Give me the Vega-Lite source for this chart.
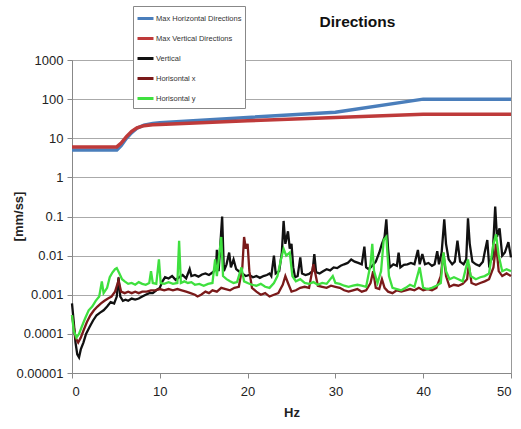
{
  "$schema": "https://vega.github.io/schema/vega-lite/v6.json",
  "width": 439,
  "height": 313,
  "autosize": {"type": "none"},
  "padding": {"left": 72, "top": 60, "right": 10, "bottom": 56},
  "background": "white",
  "config": {
    "font": "Liberation Sans",
    "view": {"stroke": "#999999", "strokeWidth": 1}
  },
  "title": {
    "text": "Directions",
    "fontSize": 15.5,
    "fontWeight": "bold",
    "color": "#111111",
    "anchor": "middle",
    "dx": 66,
    "offset": -25,
    "frame": "group"
  },
  "datasets": {
    "maxes": [
      {"s": "Max Horizontal Directions", "x": 0, "y": 5},
      {"s": "Max Horizontal Directions", "x": 5.1, "y": 5},
      {"s": "Max Horizontal Directions", "x": 5.6, "y": 6.5},
      {"s": "Max Horizontal Directions", "x": 6.2, "y": 10},
      {"s": "Max Horizontal Directions", "x": 6.8, "y": 14},
      {"s": "Max Horizontal Directions", "x": 7.4, "y": 18},
      {"s": "Max Horizontal Directions", "x": 8.2, "y": 21.5},
      {"s": "Max Horizontal Directions", "x": 9.2, "y": 24},
      {"s": "Max Horizontal Directions", "x": 10, "y": 25},
      {"s": "Max Horizontal Directions", "x": 20, "y": 34},
      {"s": "Max Horizontal Directions", "x": 30, "y": 46},
      {"s": "Max Horizontal Directions", "x": 40, "y": 100},
      {"s": "Max Horizontal Directions", "x": 50, "y": 100},
      {"s": "Max Vertical Directions", "x": 0, "y": 6},
      {"s": "Max Vertical Directions", "x": 5.1, "y": 6},
      {"s": "Max Vertical Directions", "x": 5.6, "y": 7.5},
      {"s": "Max Vertical Directions", "x": 6.2, "y": 11},
      {"s": "Max Vertical Directions", "x": 6.8, "y": 15},
      {"s": "Max Vertical Directions", "x": 7.4, "y": 18.5},
      {"s": "Max Vertical Directions", "x": 8.2, "y": 21},
      {"s": "Max Vertical Directions", "x": 9.2, "y": 22},
      {"s": "Max Vertical Directions", "x": 10, "y": 22.5},
      {"s": "Max Vertical Directions", "x": 20, "y": 28},
      {"s": "Max Vertical Directions", "x": 30, "y": 34},
      {"s": "Max Vertical Directions", "x": 40, "y": 41},
      {"s": "Max Vertical Directions", "x": 50, "y": 41}
    ],
    "vertical": [
      {"x":0,"y":0.0006},{"x":0.2,"y":0.0002},{"x":0.4,"y":0.00006},{"x":0.6,"y":0.00003},{"x":0.8,"y":0.000025},
      {"x":1.0,"y":0.00004},{"x":1.3,"y":0.00006},{"x":1.6,"y":0.0001},{"x":2.0,"y":0.00015},{"x":2.4,"y":0.00022},
      {"x":2.8,"y":0.0003},{"x":3.2,"y":0.00035},{"x":3.6,"y":0.0004},{"x":4.0,"y":0.0005},{"x":4.4,"y":0.00065},
      {"x":4.8,"y":0.0006},{"x":5.1,"y":0.0009},{"x":5.3,"y":0.0028},{"x":5.5,"y":0.0009},{"x":5.8,"y":0.0007},
      {"x":6.1,"y":0.00075},{"x":6.4,"y":0.0007},{"x":6.8,"y":0.0008},{"x":7.2,"y":0.00075},{"x":7.6,"y":0.0008},
      {"x":8.0,"y":0.0009},{"x":8.4,"y":0.001},{"x":8.8,"y":0.0011},{"x":9.2,"y":0.0011},{"x":9.6,"y":0.0013},
      {"x":10.0,"y":0.0015},{"x":10.3,"y":0.0022},{"x":10.6,"y":0.0028},{"x":11.0,"y":0.0026},{"x":11.4,"y":0.003},
      {"x":11.8,"y":0.0024},{"x":12.2,"y":0.0028},{"x":12.6,"y":0.0032},{"x":13.0,"y":0.0026},{"x":13.4,"y":0.0045},
      {"x":13.6,"y":0.003},{"x":14.0,"y":0.0032},{"x":14.4,"y":0.0029},{"x":14.8,"y":0.0033},{"x":15.2,"y":0.0035},
      {"x":15.6,"y":0.0032},{"x":16.0,"y":0.0037},{"x":16.4,"y":0.0045},{"x":16.5,"y":0.014},{"x":16.7,"y":0.004},
      {"x":17.1,"y":0.1},{"x":17.3,"y":0.004},{"x":17.6,"y":0.006},{"x":17.9,"y":0.012},{"x":18.1,"y":0.005},
      {"x":18.4,"y":0.008},{"x":18.7,"y":0.0045},{"x":19.0,"y":0.004},{"x":19.4,"y":0.0035},{"x":19.8,"y":0.003},
      {"x":20.2,"y":0.0032},{"x":20.6,"y":0.0028},{"x":21.0,"y":0.003},{"x":21.4,"y":0.0027},{"x":21.8,"y":0.003},
      {"x":22.2,"y":0.0032},{"x":22.5,"y":0.0035},{"x":22.7,"y":0.003},{"x":23.0,"y":0.01},{"x":23.2,"y":0.0035},
      {"x":23.6,"y":0.004},{"x":23.9,"y":0.012},{"x":24.1,"y":0.077},{"x":24.3,"y":0.02},{"x":24.6,"y":0.042},
      {"x":24.8,"y":0.015},{"x":25.0,"y":0.02},{"x":25.2,"y":0.005},{"x":25.4,"y":0.0028},{"x":25.7,"y":0.003},
      {"x":26.0,"y":0.009},{"x":26.2,"y":0.0035},{"x":26.6,"y":0.0032},{"x":27.0,"y":0.0034},{"x":27.4,"y":0.004},
      {"x":27.6,"y":0.011},{"x":27.8,"y":0.0038},{"x":28.2,"y":0.0035},{"x":28.6,"y":0.004},{"x":29.0,"y":0.0045},
      {"x":29.4,"y":0.0042},{"x":29.8,"y":0.005},{"x":30.2,"y":0.0048},{"x":30.6,"y":0.0055},{"x":31.0,"y":0.006},
      {"x":31.4,"y":0.0065},{"x":31.8,"y":0.008},{"x":32.2,"y":0.007},{"x":32.6,"y":0.0065},{"x":33.0,"y":0.006},
      {"x":33.3,"y":0.017},{"x":33.5,"y":0.005},{"x":33.8,"y":0.0045},{"x":34.2,"y":0.0055},{"x":34.6,"y":0.007},
      {"x":35.0,"y":0.012},{"x":35.3,"y":0.02},{"x":35.6,"y":0.03},{"x":35.8,"y":0.085},{"x":36.0,"y":0.015},
      {"x":36.2,"y":0.005},{"x":36.6,"y":0.006},{"x":37.0,"y":0.0055},{"x":37.2,"y":0.012},{"x":37.4,"y":0.005},
      {"x":37.8,"y":0.0058},{"x":38.2,"y":0.006},{"x":38.6,"y":0.0065},{"x":39.0,"y":0.006},{"x":39.4,"y":0.014},
      {"x":39.6,"y":0.006},{"x":39.9,"y":0.011},{"x":40.2,"y":0.006},{"x":40.6,"y":0.0065},{"x":41.0,"y":0.0055},
      {"x":41.3,"y":0.006},{"x":41.6,"y":0.013},{"x":41.8,"y":0.006},{"x":42.1,"y":0.012},{"x":42.4,"y":0.085},
      {"x":42.6,"y":0.02},{"x":42.9,"y":0.008},{"x":43.3,"y":0.006},{"x":43.6,"y":0.007},{"x":43.9,"y":0.024},
      {"x":44.2,"y":0.007},{"x":44.6,"y":0.006},{"x":44.9,"y":0.008},{"x":45.1,"y":0.09},{"x":45.3,"y":0.02},
      {"x":45.6,"y":0.007},{"x":46.0,"y":0.006},{"x":46.4,"y":0.0055},{"x":46.8,"y":0.007},{"x":47.0,"y":0.012},
      {"x":47.3,"y":0.025},{"x":47.5,"y":0.006},{"x":47.9,"y":0.009},{"x":48.2,"y":0.18},{"x":48.4,"y":0.03},
      {"x":48.7,"y":0.05},{"x":49.0,"y":0.01},{"x":49.3,"y":0.012},{"x":49.7,"y":0.022},{"x":50,"y":0.009}
    ],
    "horx": [
      {"x":0,"y":0.0003},{"x":0.2,"y":0.00015},{"x":0.4,"y":0.00008},{"x":0.7,"y":0.00006},{"x":1.0,"y":0.00008},
      {"x":1.3,"y":0.00012},{"x":1.7,"y":0.0002},{"x":2.1,"y":0.0003},{"x":2.5,"y":0.0004},{"x":2.9,"y":0.0005},
      {"x":3.3,"y":0.0006},{"x":3.7,"y":0.0007},{"x":4.1,"y":0.0008},{"x":4.5,"y":0.0009},{"x":4.9,"y":0.0012},
      {"x":5.3,"y":0.0023},{"x":5.6,"y":0.0012},{"x":6.0,"y":0.0011},{"x":6.4,"y":0.0012},{"x":6.8,"y":0.0011},
      {"x":7.2,"y":0.0012},{"x":7.6,"y":0.0011},{"x":8.0,"y":0.0012},{"x":8.5,"y":0.0012},{"x":9.0,"y":0.0013},
      {"x":9.5,"y":0.0013},{"x":10.0,"y":0.0014},{"x":10.5,"y":0.0013},{"x":11.0,"y":0.0014},{"x":11.5,"y":0.0013},
      {"x":12.0,"y":0.0014},{"x":12.5,"y":0.0013},{"x":13.0,"y":0.0012},{"x":13.5,"y":0.0011},{"x":14.0,"y":0.001},
      {"x":14.3,"y":0.0009},{"x":14.7,"y":0.001},{"x":15.2,"y":0.0012},{"x":15.6,"y":0.0011},{"x":16.0,"y":0.0013},
      {"x":16.5,"y":0.0012},{"x":17.0,"y":0.0015},{"x":17.5,"y":0.0014},{"x":18.0,"y":0.0013},{"x":18.5,"y":0.0015},
      {"x":19.0,"y":0.0016},{"x":19.4,"y":0.005},{"x":19.6,"y":0.03},{"x":19.8,"y":0.015},{"x":20.0,"y":0.02},
      {"x":20.2,"y":0.004},{"x":20.5,"y":0.0015},{"x":21.0,"y":0.0012},{"x":21.5,"y":0.001},{"x":22.0,"y":0.0011},
      {"x":22.5,"y":0.0009},{"x":23.0,"y":0.001},{"x":23.5,"y":0.0011},{"x":24.0,"y":0.0018},{"x":24.3,"y":0.003},
      {"x":24.6,"y":0.002},{"x":25.0,"y":0.0012},{"x":25.5,"y":0.0013},{"x":26.0,"y":0.0015},{"x":26.5,"y":0.0016},
      {"x":27.0,"y":0.0015},{"x":27.5,"y":0.006},{"x":28.0,"y":0.0017},{"x":28.5,"y":0.0016},{"x":29.0,"y":0.0015},
      {"x":29.5,"y":0.0017},{"x":30.0,"y":0.0016},{"x":30.5,"y":0.0015},{"x":31.0,"y":0.0013},{"x":31.5,"y":0.0012},
      {"x":32.0,"y":0.0013},{"x":32.5,"y":0.0014},{"x":33.0,"y":0.0012},{"x":33.5,"y":0.0013},{"x":34.0,"y":0.002},
      {"x":34.3,"y":0.004},{"x":34.6,"y":0.0015},{"x":35.0,"y":0.0014},{"x":35.3,"y":0.0025},{"x":35.6,"y":0.0015},
      {"x":36.0,"y":0.0012},{"x":36.5,"y":0.0011},{"x":37.0,"y":0.0013},{"x":37.5,"y":0.0012},{"x":38.0,"y":0.0013},
      {"x":38.5,"y":0.0014},{"x":39.0,"y":0.0013},{"x":39.5,"y":0.0015},{"x":40.0,"y":0.0013},{"x":40.5,"y":0.0014},
      {"x":41.0,"y":0.0013},{"x":41.5,"y":0.0015},{"x":42.0,"y":0.003},{"x":42.3,"y":0.012},{"x":42.6,"y":0.003},
      {"x":43.0,"y":0.0016},{"x":43.5,"y":0.0018},{"x":44.0,"y":0.0017},{"x":44.5,"y":0.0019},{"x":45.0,"y":0.0025},
      {"x":45.2,"y":0.006},{"x":45.5,"y":0.002},{"x":46.0,"y":0.0018},{"x":46.5,"y":0.002},{"x":47.0,"y":0.0022},
      {"x":47.5,"y":0.0025},{"x":48.0,"y":0.005},{"x":48.3,"y":0.02},{"x":48.6,"y":0.004},{"x":49.0,"y":0.003},
      {"x":49.5,"y":0.0035},{"x":50,"y":0.003}
    ],
    "hory": [
      {"x":0,"y":0.0003},{"x":0.2,"y":0.00012},{"x":0.5,"y":0.00008},{"x":0.8,"y":0.0001},{"x":1.1,"y":0.00015},
      {"x":1.5,"y":0.00025},{"x":1.9,"y":0.0004},{"x":2.3,"y":0.0005},{"x":2.7,"y":0.0007},{"x":3.1,"y":0.0009},
      {"x":3.4,"y":0.0022},{"x":3.6,"y":0.0011},{"x":4.0,"y":0.0015},{"x":4.3,"y":0.0028},{"x":4.6,"y":0.0037},
      {"x":4.9,"y":0.0045},{"x":5.1,"y":0.0048},{"x":5.4,"y":0.0035},{"x":5.7,"y":0.0025},{"x":6.0,"y":0.0022},
      {"x":6.4,"y":0.0019},{"x":6.8,"y":0.002},{"x":7.2,"y":0.0018},{"x":7.6,"y":0.0021},{"x":8.0,"y":0.0019},
      {"x":8.4,"y":0.0018},{"x":8.8,"y":0.002},{"x":9.0,"y":0.004},{"x":9.2,"y":0.002},{"x":9.6,"y":0.0019},
      {"x":9.9,"y":0.008},{"x":10.1,"y":0.002},{"x":10.5,"y":0.0019},{"x":11.0,"y":0.0021},{"x":11.5,"y":0.0019},
      {"x":12.0,"y":0.002},{"x":12.2,"y":0.024},{"x":12.4,"y":0.002},{"x":12.8,"y":0.0022},{"x":13.2,"y":0.002},
      {"x":13.6,"y":0.0021},{"x":14.0,"y":0.0018},{"x":14.5,"y":0.0019},{"x":15.0,"y":0.0017},{"x":15.5,"y":0.0019},
      {"x":16.0,"y":0.002},{"x":16.3,"y":0.008},{"x":16.5,"y":0.003},{"x":17.0,"y":0.03},{"x":17.2,"y":0.003},
      {"x":17.6,"y":0.0025},{"x":18.0,"y":0.0022},{"x":18.4,"y":0.002},{"x":18.8,"y":0.0021},{"x":19.3,"y":0.005},
      {"x":19.6,"y":0.0022},{"x":20.0,"y":0.002},{"x":20.5,"y":0.0018},{"x":21.0,"y":0.0017},{"x":21.5,"y":0.0019},
      {"x":22.0,"y":0.0016},{"x":22.5,"y":0.0015},{"x":23.0,"y":0.002},{"x":23.4,"y":0.003},{"x":23.8,"y":0.008},
      {"x":24.1,"y":0.015},{"x":24.4,"y":0.01},{"x":24.8,"y":0.012},{"x":25.1,"y":0.003},{"x":25.5,"y":0.0022},
      {"x":26.0,"y":0.0025},{"x":26.5,"y":0.002},{"x":27.0,"y":0.0019},{"x":27.5,"y":0.0021},{"x":28.0,"y":0.0018},
      {"x":28.5,"y":0.002},{"x":29.0,"y":0.0019},{"x":29.7,"y":0.003},{"x":30.0,"y":0.002},{"x":30.5,"y":0.0019},
      {"x":31.0,"y":0.0017},{"x":31.5,"y":0.0016},{"x":32.0,"y":0.0017},{"x":32.5,"y":0.0018},{"x":33.0,"y":0.0017},
      {"x":33.5,"y":0.0016},{"x":34.0,"y":0.006},{"x":34.2,"y":0.02},{"x":34.4,"y":0.004},{"x":34.8,"y":0.002},
      {"x":35.2,"y":0.004},{"x":35.5,"y":0.025},{"x":35.8,"y":0.03},{"x":36.1,"y":0.003},{"x":36.5,"y":0.0015},
      {"x":37.0,"y":0.0014},{"x":37.5,"y":0.0013},{"x":38.0,"y":0.0015},{"x":38.5,"y":0.0018},{"x":39.0,"y":0.0016},
      {"x":39.6,"y":0.005},{"x":40.0,"y":0.0015},{"x":40.5,"y":0.0014},{"x":41.0,"y":0.0015},{"x":41.5,"y":0.0017},
      {"x":42.0,"y":0.002},{"x":42.3,"y":0.012},{"x":42.6,"y":0.004},{"x":43.0,"y":0.0025},{"x":43.5,"y":0.0028},
      {"x":44.0,"y":0.0025},{"x":44.5,"y":0.0022},{"x":45.1,"y":0.008},{"x":45.4,"y":0.003},{"x":46.0,"y":0.0025},
      {"x":46.5,"y":0.0028},{"x":47.0,"y":0.003},{"x":47.5,"y":0.0035},{"x":48.0,"y":0.02},{"x":48.3,"y":0.035},
      {"x":48.6,"y":0.01},{"x":49.0,"y":0.004},{"x":49.5,"y":0.0045},{"x":50,"y":0.004}
    ]
  },
  "encoding": {
    "x": {
      "field": "x",
      "type": "quantitative",
      "scale": {"domain": [0, 50], "nice": false, "zero": false},
      "axis": {
        "title": "Hz",
        "values": [0, 10, 20, 30, 40, 50],
        "grid": false,
        "domainColor": "#888888",
        "tickColor": "#888888",
        "tickSize": 5,
        "labelFontSize": 13,
        "labelColor": "#222222",
        "labelPadding": 7,
        "titleFontSize": 13,
        "titleFontWeight": "bold",
        "titleColor": "#222222",
        "titleY": 39,
        "titleBaseline": "middle"
      }
    },
    "y": {
      "field": "y",
      "type": "quantitative",
      "scale": {"type": "log", "domain": [0.00001, 1000], "nice": false},
      "axis": {
        "title": "[mm/ss]",
        "values": [0.00001, 0.0001, 0.001, 0.01, 0.1, 1, 10, 100, 1000],
        "format": "~g",
        "grid": true,
        "gridColor": "#aaaaaa",
        "gridWidth": 1,
        "domainColor": "#888888",
        "tickColor": "#888888",
        "tickSize": 5,
        "labelFontSize": 13,
        "labelColor": "#222222",
        "labelPadding": 4,
        "titleFontSize": 13,
        "titleFontWeight": "bold",
        "titleColor": "#222222",
        "titleX": -54,
        "titleY": 156,
        "titleAngle": -90,
        "titleAlign": "center",
        "titleBaseline": "middle"
      }
    },
    "color": {
      "field": "s",
      "type": "nominal",
      "scale": {
        "domain": ["Max Horizontal Directions", "Max Vertical Directions", "Vertical", "Horisontal x", "Horisontal y"],
        "range": ["#4a7ebb", "#be3a3a", "#111111", "#7a1a1a", "#3fe03f"]
      },
      "legend": {
        "title": null,
        "orient": "none",
        "legendX": 61,
        "legendY": -54,
        "direction": "vertical",
        "strokeColor": "#888888",
        "fillColor": "white",
        "padding": 3,
        "symbolType": "stroke",
        "symbolSize": 256,
        "symbolStrokeWidth": 3,
        "labelFontSize": 7.5,
        "labelColor": "#333333",
        "labelOffset": 1,
        "rowPadding": 4,
        "labelLimit": 200
      }
    }
  },
  "layer": [
    {
      "data": {"name": "maxes"},
      "mark": {"type": "line", "strokeWidth": 3.5}
    },
    {
      "data": {"name": "vertical"},
      "transform": [{"calculate": "'Vertical'", "as": "s"}],
      "mark": {"type": "line", "strokeWidth": 2.3}
    },
    {
      "data": {"name": "horx"},
      "transform": [{"calculate": "'Horisontal x'", "as": "s"}],
      "mark": {"type": "line", "strokeWidth": 2.3}
    },
    {
      "data": {"name": "hory"},
      "transform": [{"calculate": "'Horisontal y'", "as": "s"}],
      "mark": {"type": "line", "strokeWidth": 2.3}
    }
  ]
}
